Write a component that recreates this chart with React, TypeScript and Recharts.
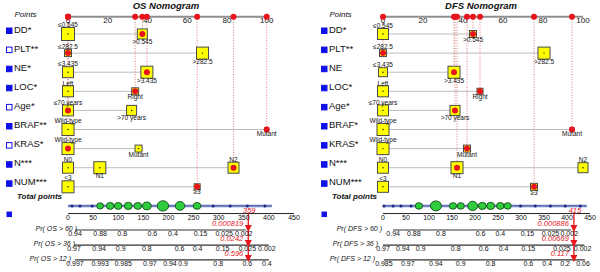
import { ComposedChart, Scatter, XAxis, YAxis, ReferenceLine } from "recharts";

const FONT = "'Liberation Sans', Arial, Helvetica, sans-serif";
const RED = "#e8141c";
const BLUE = "#1010e8";

// vertical layout in row units (one unit = one predictor row)
const Y_DOMAIN: [number, number] = [-0.78, 13.46];
const ROW_POINTS = 0.1;
const ROW_TOTAL = 10;
const ROW_TOTAL_AXIS = 10.4;
const ROW_PROB = [11.26, 12.05, 12.83];

const pointTicks = [0, 20, 40, 60, 80, 100];
const totalTicks = [0, 50, 100, 150, 200, 250, 300, 350, 400, 450];

const levelLabels = [
  ["≤0.545", ">0.545"],
  ["≤282.5", ">282.5"],
  ["≤3.435", ">3.435"],
  ["Left", "Right"],
  ["≤70 years", ">70 years"],
  ["Wild-type", "Mutant"],
  ["Wild-type", "Mutant"],
  ["N0", "N1", "N2"],
  ["<3", "≥3"],
];

// ---- OS nomogram
const osNames = ["DD*", "PLT**", "NE*", "LOC*", "Age*", "BRAF**", "KRAS*", "N***", "NUM***"];
const osFilled = [true, false, true, true, false, true, false, true, true];
const osPoints = [[0, 37.4], [0, 67.7], [0, 39.7], [0, 33.8], [0, 32], [0, 100], [0, 35.5], [0, 16, 83.3], [0, 65]];
const osCounts = [[150, 74], [24, 122], [96, 122], [96, 24], [96, 74], [122, 1], [122, 24], [96, 122, 96], [122, 14]];
const osChosen = [1, 0, 1, 1, 0, 1, 0, 2, 1];
const osDistAt = [8, 24, 48, 64, 84, 100, 120, 139, 157, 189, 223, 257, 289, 323, 357, 392];
const osDistN = [1, 1, 1, 5, 7, 7, 8, 7, 10, 22, 14, 7, 2, 2, 2, 2];
const osTotal = 359;
const osProbNames = ["Pr( OS > 60 )", "Pr( OS > 36 )", "Pr( OS > 12 )"];
const osProbTicks = [
  ["0.94", "0.88", "0.8", "0.6", "0.4", "0.15", "0.025", "0.002"],
  ["0.97", "0.94", "0.9", "0.8", "0.6", "0.4", "0.15", "0.025", "0.002"],
  ["0.997", "0.993", "0.985", "0.97", "0.94", "0.9", "0.8", "0.6", "0.4"],
];
const osProbAt = [
  [14, 64, 108, 168, 209, 264, 311, 350],
  [12, 62, 105, 157, 222, 258, 308, 357, 396],
  [14, 64, 110, 163, 203, 229, 299, 357, 396],
];
const osProbValues = ["0.000819", "0.0242", "0.596"];

// ---- DFS nomogram
const dfsNames = ["DD*", "PLT**", "NE", "LOC*", "Age*", "BRAF*", "KRAS*", "N***", "NUM***"];
const dfsFilled = [true, true, true, true, true, true, true, true, true];
const dfsPoints = [[0, 45], [0, 80.5], [0, 35.5], [0, 48.5], [0, 36], [0, 94.5], [0, 42], [0, 37, 100], [0, 75.5]];
const dfsCounts = [[96, 24], [24, 122], [54, 122], [96, 14], [96, 74], [122, 1], [122, 24], [96, 122, 74], [96, 24]];
const dfsChosen = [1, 0, 1, 1, 1, 1, 1, 1, 1];
const dfsDistAt = [2, 22, 39, 61, 78, 115, 152, 169, 195, 216, 234, 255, 271, 299, 331, 364, 396, 429];
const dfsDistN = [1, 1, 1, 1, 6, 20, 6, 6, 16, 8, 8, 7, 6, 2, 2, 2, 2, 2];
const dfsTotal = 415;
const dfsProbNames = ["Pr( DFS > 60 )", "Pr( DFS > 36 )", "Pr( DFS > 12 )"];
const dfsProbTicks = [
  ["0.94", "0.88", "0.8", "0.6", "0.4", "0.15", "0.025", "0.002"],
  ["0.97", "0.94", "0.9", "0.8", "0.6", "0.4", "0.15", "0.025", "0.002"],
  ["0.985", "0.97", "0.94", "0.9", "0.8", "0.6", "0.4", "0.2", "0.06"],
];
const dfsProbAt = [
  [22, 67, 126, 212, 255, 314, 364, 405],
  [0, 43, 82, 158, 219, 262, 316, 389, 434],
  [2, 54, 115, 169, 234, 316, 357, 396, 435],
];
const dfsProbValues = ["0.000886", "0.00669", "0.117"];

const txt = { fontFamily: FONT, fill: "#111" };

const LevelMark = (p: any) => {
  const { cx, cy, payload } = p;
  const s = 3 + 10 * Math.sqrt(payload.n / 150);
  return (
    <g>
      <rect x={cx - s / 2} y={cy - s / 2} width={s} height={s} fill="#ffff00" stroke="#4a4a4a" strokeWidth={1} />
      {payload.chosen ? (
        <circle cx={cx} cy={cy} r={3} fill={RED} />
      ) : (
        <circle cx={cx} cy={cy} r={0.7} fill="#000" />
      )}
      <text {...txt} x={cx} y={payload.above ? cy - s / 2 - 0.3 : cy + s / 2 + 4.5} textAnchor="middle" fontSize={6.5}>
        {payload.label}
      </text>
    </g>
  );
};

const RedDot = (p: any) => <circle cx={p.cx} cy={p.cy} r={3} fill={RED} />;

const PointTick = (p: any) => (
  <text {...txt} x={p.cx} y={p.cy + 5.8} textAnchor="middle" fontSize={8}>
    {p.payload.x}
  </text>
);

const TotalTick = (p: any) => (
  <text {...txt} x={p.cx} y={p.cy + 6.5} textAnchor="middle" fontSize={7}>
    {p.payload.x}
  </text>
);

const ProbTick = (p: any) => (
  <text {...txt} x={p.cx} y={p.cy + 6.2} textAnchor="middle" fontSize={7}>
    {p.payload.label}
  </text>
);

const DistMark = (p: any) => {
  const { cx, cy, payload } = p;
  if (payload.n < 4) return <circle cx={cx} cy={cy} r={1.5} fill="#1c2a86" />;
  const r = 1.2 + 0.85 * Math.sqrt(payload.n);
  return <ellipse cx={cx} cy={cy} rx={r * 1.1} ry={r} fill="#2fcc3c" stroke="#124d18" strokeWidth={0.9} />;
};

const ArrowMark = (p: any) => {
  const { cx, cy, payload } = p;
  if (payload.kind === "total") {
    return (
      <text x={cx + 1} y={cy - 0.5} textAnchor="middle" fontSize={7.5} fontStyle="italic" fontFamily={FONT} fill={RED}>
        {payload.label}
      </text>
    );
  }
  return (
    <g>
      <path d={`M${cx - 3.5},${cy - 5} L${cx + 3.5},${cy - 5} L${cx},${cy + 2} Z`} fill={RED} />
      <text x={cx - 5} y={cy - 4} textAnchor="end" fontSize={7.5} fontStyle="italic" fontFamily={FONT} fill={RED}>
        {payload.label}
      </text>
    </g>
  );
};

function Nomogram(props: any) {
  const { names, filled, points, counts, chosen, distAt, distN, total, probNames, probTicks, probAt, probValues } = props.d;
  const { left, width, right, ptsMax, title, probEnd } = props;

  const levels = points.flatMap((pts: number[], i: number) =>
    pts.map((v, j) => ({
      x: v,
      y: i + 1,
      n: counts[i][j],
      label: levelLabels[i][j],
      above: j % 2 === 0,
      chosen: chosen[i] === j,
    }))
  );
  const chosenPts = points.map((pts: number[], i: number) => pts[chosen[i]]);
  const rowTicks = [ROW_POINTS, 1, 2, 3, 4, 5, 6, 7, 8, 9, ROW_TOTAL, ROW_TOTAL_AXIS, ...ROW_PROB];

  const RowLabel = (tp: any) => {
    const v = tp.payload.value;
    const y = tp.y;
    const near = (a: number) => Math.abs(v - a) < 1e-6;
    if (near(ROW_POINTS))
      return (
        <text {...txt} x={25.5} y={y} textAnchor="middle" fontSize={8} fontStyle="italic">
          Points
        </text>
      );
    if (near(ROW_TOTAL))
      return (
        <text {...txt} x={17} y={y - 6.5} fontSize={8} fontStyle="italic" fontWeight="bold">
          Total points
        </text>
      );
    if (near(ROW_TOTAL_AXIS)) return <rect x={6.5} y={y - 2} width={5.5} height={5.5} fill={BLUE} />;
    const k = ROW_PROB.findIndex(near);
    if (k >= 0)
      return (
        <text {...txt} x={probEnd[k]} y={y + 1} textAnchor="end" fontSize={7} fontStyle="italic">
          {probNames[k]}
        </text>
      );
    const i = Math.round(v) - 1;
    return (
      <g>
        <rect x={6.5} y={y - 6} width={5.5} height={5.5} fill={filled[i] ? BLUE : "#fff"} stroke={BLUE} strokeWidth={1} />
        <text {...txt} x={14} y={y - 1.5} fontSize={9.5}>
          {names[i]}
        </text>
      </g>
    );
  };

  return (
    <div style={{ position: "absolute", left, top: 0, width, height: 272 }}>
      <ComposedChart width={width} height={272} margin={{ top: 0, right, bottom: 0, left: 0 }}>
        <XAxis xAxisId="pts" type="number" dataKey="x" domain={[0, ptsMax]} hide />
        <XAxis xAxisId="tot" type="number" dataKey="x" domain={[0, 450]} hide />
        <YAxis
          type="number"
          dataKey="y"
          domain={Y_DOMAIN}
          reversed
          ticks={rowTicks}
          interval={0}
          width={68}
          axisLine={false}
          tickLine={false}
          tick={RowLabel}
        />

        {/* predictor rows */}
        {points.map((pts: number[], i: number) => (
          <ReferenceLine
            key={"row" + i}
            xAxisId="pts"
            segment={[{ x: 0, y: i + 1 }, { x: Math.max(...pts), y: i + 1 }]}
            stroke="#bdbdbd"
            strokeWidth={1}
          />
        ))}
        {/* dotted guides from the points scale */}
        {chosenPts.map((v: number, i: number) => (
          <ReferenceLine
            key={"guide" + i}
            xAxisId="pts"
            segment={[{ x: v, y: ROW_POINTS }, { x: v, y: i + 1 }]}
            stroke="#e06a6a"
            strokeWidth={0.9}
            strokeDasharray="1 1.6"
          />
        ))}
        <ReferenceLine xAxisId="pts" segment={[{ x: 0, y: ROW_POINTS }, { x: 100, y: ROW_POINTS }]} stroke="#8f8f8f" strokeWidth={2} />

        {/* total points distribution */}
        <ReferenceLine xAxisId="tot" segment={[{ x: 0, y: ROW_TOTAL }, { x: distAt[distAt.length - 1] + 14, y: ROW_TOTAL }]} stroke="#b4bde6" strokeWidth={3} />
        <ReferenceLine xAxisId="tot" segment={[{ x: 0, y: ROW_TOTAL }, { x: distAt[distAt.length - 1] + 14, y: ROW_TOTAL }]} stroke="#2a3a96" strokeWidth={1} />
        <ReferenceLine xAxisId="tot" segment={[{ x: 0, y: ROW_TOTAL_AXIS }, { x: 450, y: ROW_TOTAL_AXIS }]} stroke="#222" strokeWidth={1} />
        {probAt.map((ts: number[], k: number) => (
          <ReferenceLine
            key={"pr" + k}
            xAxisId="tot"
            segment={[{ x: ts[0], y: ROW_PROB[k] }, { x: ts[ts.length - 1] + 4, y: ROW_PROB[k] }]}
            stroke="#333"
            strokeWidth={1.2}
          />
        ))}
        <ReferenceLine xAxisId="tot" segment={[{ x: total, y: ROW_TOTAL_AXIS }, { x: total, y: ROW_PROB[2] }]} stroke={RED} strokeWidth={1.3} />

        <Scatter xAxisId="pts" data={levels} shape={LevelMark} isAnimationActive={false} />
        <Scatter xAxisId="pts" data={pointTicks.map((x) => ({ x, y: ROW_POINTS }))} shape={PointTick} isAnimationActive={false} />
        <Scatter xAxisId="pts" data={chosenPts.map((x: number) => ({ x, y: ROW_POINTS }))} shape={RedDot} isAnimationActive={false} />
        <Scatter
          xAxisId="tot"
          data={distAt.map((x: number, i: number) => ({ x, y: ROW_TOTAL, n: distN[i] }))}
          shape={DistMark}
          isAnimationActive={false}
        />
        <Scatter xAxisId="tot" data={totalTicks.map((x) => ({ x, y: ROW_TOTAL_AXIS }))} shape={TotalTick} isAnimationActive={false} />
        <Scatter
          xAxisId="tot"
          data={probAt.flatMap((ts: number[], k: number) => ts.map((x, j) => ({ x, y: ROW_PROB[k], label: probTicks[k][j] })))}
          shape={ProbTick}
          isAnimationActive={false}
        />
        <Scatter
          xAxisId="tot"
          data={[
            { x: total, y: ROW_TOTAL_AXIS, label: String(total), kind: "total" },
            ...probValues.map((label: string, k: number) => ({ x: total, y: ROW_PROB[k], label, kind: "prob" })),
          ]}
          shape={ArrowMark}
          isAnimationActive={false}
        />
      </ComposedChart>
      <div
        style={{
          position: "absolute",
          left: 166 - 60,
          top: 0,
          width: 120,
          textAlign: "center",
          fontFamily: FONT,
          fontSize: 9.5,
          fontWeight: "bold",
          fontStyle: "italic",
          lineHeight: "11px",
          color: "#111",
        }}
      >
        {title}
      </div>
    </div>
  );
}

const osData = {
  names: osNames, filled: osFilled, points: osPoints, counts: osCounts, chosen: osChosen,
  distAt: osDistAt, distN: osDistN, total: osTotal,
  probNames: osProbNames, probTicks: osProbTicks, probAt: osProbAt, probValues: osProbValues,
};
const dfsData = {
  names: dfsNames, filled: dfsFilled, points: dfsPoints, counts: dfsCounts, chosen: dfsChosen,
  distAt: dfsDistAt, distN: dfsDistN, total: dfsTotal,
  probNames: dfsProbNames, probTicks: dfsProbTicks, probAt: dfsProbAt, probValues: dfsProbValues,
};

export default function App() {
  return (
    <div style={{ position: "absolute", left: 0, top: 0, width: 600, height: 272, background: "#fff", overflow: "hidden" }}>
      <Nomogram d={osData} left={0} width={300} right={6} ptsMax={113.74} title="OS Nomogram" probEnd={[77, 75, 71]} />
      <Nomogram d={dfsData} left={315} width={285} right={10} ptsMax={103.5} title="DFS Nomogram" probEnd={[67, 63, 60]} />
    </div>
  );
}
